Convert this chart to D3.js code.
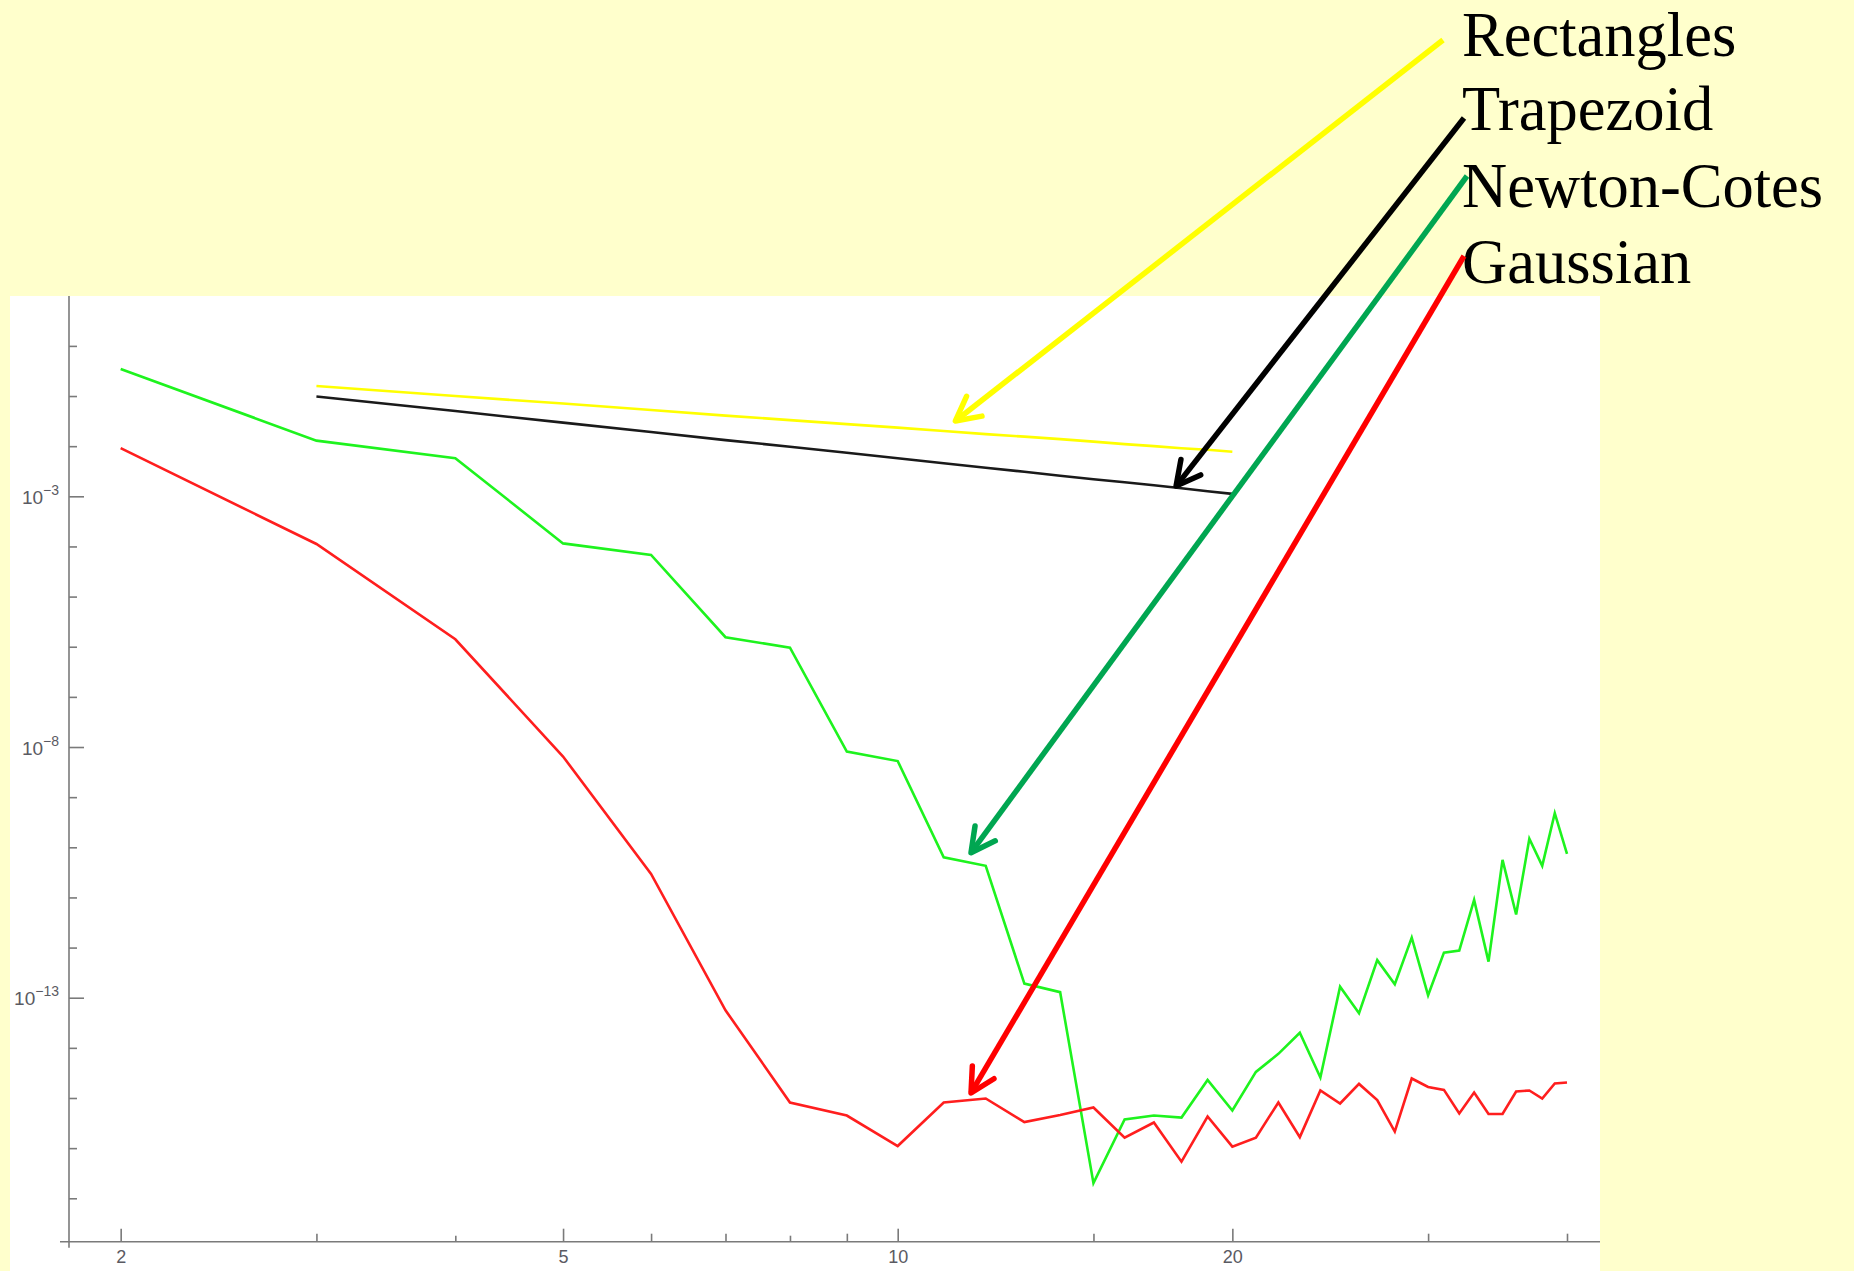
<!DOCTYPE html>
<html>
<head>
<meta charset="utf-8">
<script src="https://cdn.jsdelivr.net/npm/d3@7"></script>
<style>
  html, body { margin: 0; padding: 0; background: #FFFFCC; }
  svg { display: block; }
</style>
</head>
<body>
<svg id="chart" width="1854" height="1271"></svg>
<script>
// ---- data: quadrature error versus number of nodes n ----
const nodesHigh = [2, 3, 4, 5, 6, 7, 8, 9, 10, 11, 12, 13, 14, 15, 16, 17, 18, 19, 20,
                   21, 22, 23, 24, 25, 26, 27, 28, 29, 30, 31, 32, 33, 34, 35, 36, 37, 38, 39, 40];
const newtonCotes = [3.47e-1, 1.29e-2, 5.75e-3, 1.15e-4, 6.76e-5, 1.55e-6, 9.55e-7, 8.13e-9, 5.25e-9, 6.31e-11,
                     4.27e-11, 1.91e-13, 1.29e-13, 2.0e-17, 3.72e-16, 4.47e-16, 4.07e-16, 2.29e-15, 5.62e-16,
                     3.31e-15, 7.59e-15, 2.0e-14, 2.57e-15, 1.66e-13, 4.9e-14, 5.62e-13, 1.86e-13, 1.58e-12,
                     1.12e-13, 7.94e-13, 8.71e-13, 8.91e-12, 5.25e-13, 5.62e-11, 4.57e-12, 1.48e-10, 4.27e-11,
                     4.79e-10, 7.41e-11];
const gaussian = [9.12e-3, 1.12e-4, 1.41e-6, 6.46e-9, 2.95e-11, 5.62e-14, 8.13e-16, 4.47e-16, 1.10e-16, 8.13e-16,
                  9.77e-16, 3.31e-16, 4.57e-16, 6.46e-16, 1.62e-16, 3.24e-16, 5.37e-17, 4.27e-16, 1.07e-16,
                  1.62e-16, 8.13e-16, 1.66e-16, 1.41e-15, 7.76e-16, 1.91e-15, 9.12e-16, 2.14e-16, 2.45e-15,
                  1.66e-15, 1.45e-15, 4.9e-16, 1.29e-15, 4.79e-16, 4.79e-16, 1.35e-15, 1.41e-15, 9.77e-16,
                  1.95e-15, 2.04e-15];

const nodesLow = [3, 4, 5, 6, 7, 8, 9, 10, 11, 12, 13, 14, 15, 16, 17, 18, 19, 20];
const rectangles = [1.58e-1, 1.00e-1, 7.08e-2, 5.25e-2, 4.07e-2, 3.31e-2, 2.75e-2, 2.34e-2, 2.00e-2,
                    1.74e-2, 1.55e-2, 1.38e-2, 1.23e-2, 1.10e-2, 1.00e-2, 9.12e-3, 8.51e-3, 7.76e-3];
const trapezoid = [9.77e-2, 5.01e-2, 2.95e-2, 1.91e-2, 1.32e-2, 9.77e-3, 7.41e-3, 5.75e-3, 4.57e-3,
                   3.72e-3, 3.09e-3, 2.57e-3, 2.19e-3, 1.91e-3, 1.66e-3, 1.45e-3, 1.26e-3, 1.12e-3];

// ---- ticks ----
const xTicksMajor = [2, 5, 10, 20];
const xTicksMinor = [3, 4, 6, 7, 8, 9, 15, 30, 40];
const xTicksShort = [4, 8];
const yDecadeExponents = [0, -1, -2, -3, -4, -5, -6, -7, -8, -9, -10, -11, -12, -13, -14, -15, -16, -17];
const yLabelExponents = [-3, -8, -13];

// ---- legend with pointer arrows (tip given in data coordinates) ----
const legendNames = ["Rectangles", "Trapezoid", "Newton-Cotes", "Gaussian"];
const arrowTipN = [11.27, 17.8, 11.64, 11.64];
const arrowTipErr = [3.18e-2, 1.6e-3, 7.8e-11, 1.26e-15];

// ---- styling ----
const lineColors = { rect: "#FFFF00", trap: "#1a1a1a", nc: "#1EF31E", gauss: "#FF1E1E" };
const arrowColors = ["#FFFF00", "#000000", "#00A651", "#FF0000"];
const legendBaselines = [56, 130, 206.7, 283.3];
const arrowTails = [[1443, 40], [1464, 118], [1467, 176], [1464, 256]];

const svg = d3.select("#chart");

// white plotting panel
svg.append("rect").attr("x", 10).attr("y", 296).attr("width", 1590).attr("height", 975).attr("fill", "#FFFFFF");

const x = d3.scaleLog().domain([1.797, 42.83]).range([69, 1600]);
const y = d3.scaleLog().domain([Math.pow(10, -17.866), Math.pow(10, 0.995)]).range([1241.7, 296]);

const axisColor = "#7a7a7a";
const tickFont = "Liberation Sans, Arial, sans-serif";
const tickColor = "#5a5a62";

// y axis
const yTickVals = yDecadeExponents.map(e => Math.pow(10, e));
const gy = svg.append("g").attr("transform", `translate(${x.range()[0]},0)`)
  .call(d3.axisLeft(y).tickValues(yTickVals).tickSizeInner(-8).tickSizeOuter(0).tickFormat(() => ""));
gy.select(".domain").remove();
gy.selectAll(".tick line").attr("stroke", axisColor).attr("stroke-width", 1.6)
  .attr("x2", d => yLabelExponents.includes(Math.round(Math.log10(d))) ? 15 : 8);
gy.selectAll(".tick text").remove();
gy.selectAll(".tick").each(function (d) {
  const e = Math.round(Math.log10(d));
  if (!yLabelExponents.includes(e)) return;
  const t = d3.select(this).append("text")
    .attr("x", -10).attr("dy", "0.38em").attr("text-anchor", "end")
    .attr("font-family", tickFont).attr("font-size", 19)
    .attr("fill", tickColor).text("10");
  t.append("tspan").attr("dy", -9).attr("font-size", 14).text("\u2212" + Math.abs(e));
});
gy.append("line").attr("x1", 0).attr("x2", 0).attr("y1", y.range()[1]).attr("y2", y.range()[0] + 6)
  .attr("stroke", axisColor).attr("stroke-width", 1.6);

// x axis
const gx = svg.append("g").attr("transform", `translate(0,${y.range()[0]})`)
  .call(d3.axisBottom(x).tickValues(xTicksMajor.concat(xTicksMinor)).tickSizeInner(-13).tickSizeOuter(0)
    .tickPadding(9).tickFormat(d => xTicksMajor.includes(d) ? d3.format("d")(d) : ""));
gx.select(".domain").remove();
gx.selectAll(".tick line").attr("stroke", axisColor).attr("stroke-width", 1.6)
  .attr("y2", d => xTicksMajor.includes(d) ? -13 : (xTicksShort.includes(d) ? -6 : -8));
gx.selectAll(".tick text").attr("font-family", tickFont)
  .attr("font-size", 18).attr("fill", tickColor);
gx.append("line").attr("x1", x.range()[0] - 9).attr("x2", x.range()[1]).attr("y1", 0).attr("y2", 0)
  .attr("stroke", axisColor).attr("stroke-width", 1.6);

// series lines
const line = d3.line().x(d => x(d[0])).y(d => y(d[1]));
function drawSeries(nodes, vals, color) {
  svg.append("path").datum(nodes.map((n, i) => [n, vals[i]]))
    .attr("d", line).attr("fill", "none").attr("stroke", color)
    .attr("stroke-width", 2.6).attr("stroke-linejoin", "miter");
}
drawSeries(nodesLow, rectangles, lineColors.rect);
drawSeries(nodesLow, trapezoid, lineColors.trap);
drawSeries(nodesHigh, newtonCotes, lineColors.nc);
drawSeries(nodesHigh, gaussian, lineColors.gauss);

// legend text
const legendX = 1462;
svg.append("g").selectAll("text").data(legendNames).join("text")
  .attr("x", legendX).attr("y", (d, i) => legendBaselines[i])
  .attr("font-family", "Liberation Serif, Times New Roman, serif").attr("font-size", 62.5)
  .attr("fill", "#000").text(d => d);

// pointer arrows from each legend entry to its curve
legendNames.forEach((name, i) => {
  const tx = x(arrowTipN[i]), ty = y(arrowTipErr[i]);
  const sx = arrowTails[i][0], sy = arrowTails[i][1];
  const ang = Math.atan2(sy - ty, sx - tx);
  const L = 27, spread = Math.PI / 6.5;
  const a1 = [tx + L * Math.cos(ang - spread), ty + L * Math.sin(ang - spread)];
  const a2 = [tx + L * Math.cos(ang + spread), ty + L * Math.sin(ang + spread)];
  const g = svg.append("g").attr("stroke", arrowColors[i]).attr("fill", "none")
    .attr("stroke-width", 5.5).attr("stroke-linecap", "round").attr("stroke-linejoin", "round");
  g.append("line").attr("x1", sx).attr("y1", sy).attr("x2", tx).attr("y2", ty).attr("stroke-linecap", "butt");
  g.append("path").attr("d", `M${a1[0]},${a1[1]}L${tx},${ty}L${a2[0]},${a2[1]}`);
});
</script>
</body>
</html>
